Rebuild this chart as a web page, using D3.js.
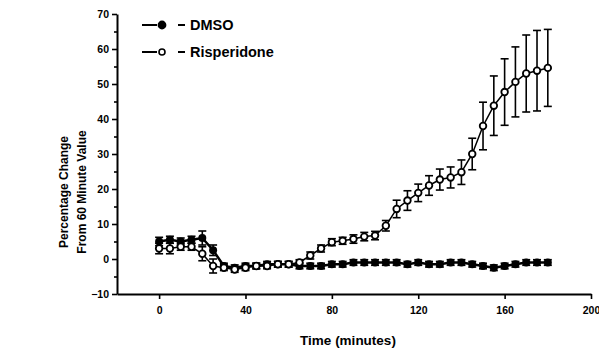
<!DOCTYPE html>
<html>
<head>
<meta charset="utf-8">
<script src="https://cdn.jsdelivr.net/npm/d3@7"></script>
<style>
  body { margin: 0; background: #fff; }
  svg { display: block; }
  text { font-family: "Liberation Sans", Arial, sans-serif; font-weight: bold; fill: #000; }
</style>
</head>
<body>
<svg id="chart" width="599" height="354"></svg>
<script>
// time points (minutes)
const times = [0, 5, 10, 15, 20, 25, 30, 35, 40, 45, 50, 55, 60, 65, 70, 75, 80, 85, 90,
  95, 100, 105, 110, 115, 120, 125, 130, 135, 140, 145, 150, 155, 160, 165, 170, 175, 180];

// DMSO, % change from 60 minute value, and SEM
const dmso = [5, 5.5, 5, 5.5, 6, 2.5, -2, -2.5, -2, -2, -1.5, -1.5, -1.5, -2, -2, -2, -1.5, -1.5, -1,
  -1, -1, -1, -1, -1.5, -1, -1.5, -1.5, -1, -1, -1.5, -2, -2.5, -2, -1.5, -1, -1, -1];
const dmsoErr = [1.2, 1, 1, 1, 2, 1.5, 0.8, 0.8, 0.8, 0.8, 0.8, 0.8, 0.8, 0.8, 0.8, 0.8, 0.8, 0.8, 0.8,
  0.8, 0.8, 0.8, 0.8, 0.8, 0.8, 0.8, 0.8, 0.8, 0.8, 0.8, 0.8, 0.8, 0.8, 0.8, 0.8, 0.8, 0.8];

// Risperidone, % change from 60 minute value, and SEM
const risp = [3, 3, 3.5, 3.5, 1.5, -2, -2.5, -3, -2.5, -2, -2, -1.5, -1.5, -1, 1, 3, 4.8, 5.2, 5.7,
  6.4, 6.7, 9.5, 14.3, 16.7, 18.9, 21, 22.7, 23.3, 24.8, 30, 38, 43.8, 47.7, 50.6, 53, 53.8, 54.6];
const rispErr = [1.5, 1.5, 1, 1, 2, 2, 0.8, 0.8, 0.8, 0.8, 0.8, 0.8, 0.8, 0.8, 1, 1, 1, 1, 1.2,
  1.2, 1.2, 1.5, 2.5, 2.8, 2.5, 2.8, 3, 3, 3.5, 4.5, 6.8, 8.5, 9.5, 10, 11, 11.5, 11];

const xTicks = [0, 40, 80, 120, 160, 200];
const yTicks = [-10, 0, 10, 20, 30, 40, 50, 60, 70];
const yMinor = [-5, 5, 15, 25, 35, 45, 55, 65];

const svg = d3.select('#chart');

const x = d3.scaleLinear().domain([-19.5, 200]).range([117, 591]);
const y = d3.scaleLinear().domain([-10, 70]).range([294, 14]);

// axes
const xAxis = svg.append('g')
  .attr('transform', `translate(0,${y(-10)})`)
  .call(d3.axisBottom(x).tickValues(xTicks).tickSize(5).tickSizeOuter(0).tickPadding(8));

const yAxis = svg.append('g')
  .attr('transform', `translate(${x(-19.5)},0)`)
  .call(d3.axisLeft(y).tickValues(yTicks).tickSize(5).tickSizeOuter(0).tickPadding(3));

svg.append('g')
  .attr('transform', `translate(${x(-19.5)},0)`)
  .call(d3.axisLeft(y).tickValues(yMinor).tickSize(3).tickFormat(''))
  .select('.domain').remove();

svg.selectAll('.domain').attr('stroke', '#000').attr('stroke-width', 2);
svg.selectAll('.tick line').attr('stroke', '#000').attr('stroke-width', 1.6);
xAxis.selectAll('text').style('font-size', '10.5px');
yAxis.selectAll('text').style('font-size', '10.5px').attr('dy', '0.35em');

// axis titles
svg.append('text')
  .attr('x', 348).attr('y', 345)
  .attr('text-anchor', 'middle')
  .style('font-size', '13.5px')
  .text('Time (minutes)');

svg.append('text')
  .attr('transform', 'translate(68,192) rotate(-90)')
  .attr('text-anchor', 'middle')
  .style('font-size', '12px')
  .text('Percentage Change');

svg.append('text')
  .attr('transform', 'translate(86,192) rotate(-90)')
  .attr('text-anchor', 'middle')
  .style('font-size', '12px')
  .text('From 60 Minute Value');

// series drawing
const line = d3.line()
  .x((d, i) => x(times[i]))
  .y(d => y(d));

function drawErrors(vals, errs) {
  const g = svg.append('g').attr('stroke', '#000').attr('stroke-width', 1.6);
  vals.forEach((v, i) => {
    const cx = x(times[i]);
    g.append('line')
      .attr('x1', cx).attr('x2', cx)
      .attr('y1', y(v - errs[i])).attr('y2', y(v + errs[i]));
    [v - errs[i], v + errs[i]].forEach(e => {
      g.append('line')
        .attr('x1', cx - 4).attr('x2', cx + 4)
        .attr('y1', y(e)).attr('y2', y(e));
    });
  });
}

drawErrors(dmso, dmsoErr);
drawErrors(risp, rispErr);

svg.append('path')
  .datum(dmso)
  .attr('d', line)
  .attr('fill', 'none')
  .attr('stroke', '#000')
  .attr('stroke-width', 2.5);

svg.append('path')
  .datum(risp)
  .attr('d', line)
  .attr('fill', 'none')
  .attr('stroke', '#000')
  .attr('stroke-width', 1.5);

svg.append('g')
  .selectAll('circle')
  .data(dmso)
  .join('circle')
  .attr('cx', (d, i) => x(times[i]))
  .attr('cy', d => y(d))
  .attr('r', 4)
  .attr('fill', '#000');

svg.append('g')
  .selectAll('circle')
  .data(risp)
  .join('circle')
  .attr('cx', (d, i) => x(times[i]))
  .attr('cy', d => y(d))
  .attr('r', 3.3)
  .attr('fill', '#fff')
  .attr('stroke', '#000')
  .attr('stroke-width', 1.8);

// legend
const legend = svg.append('g');
const legendItems = [
  { label: 'DMSO', filled: true, y: 25 },
  { label: 'Risperidone', filled: false, y: 52 }
];
legendItems.forEach(item => {
  legend.append('line')
    .attr('x1', 142).attr('x2', 157)
    .attr('y1', item.y).attr('y2', item.y)
    .attr('stroke', '#000').attr('stroke-width', 2);
  legend.append('circle')
    .attr('cx', 162).attr('cy', item.y)
    .attr('r', item.filled ? 3.6 : 3)
    .attr('fill', item.filled ? '#000' : '#fff')
    .attr('stroke', '#000').attr('stroke-width', 1.6);
  legend.append('line')
    .attr('x1', 178).attr('x2', 185)
    .attr('y1', item.y).attr('y2', item.y)
    .attr('stroke', '#000').attr('stroke-width', 2);
  legend.append('text')
    .attr('x', 190).attr('y', item.y)
    .attr('dy', '0.36em')
    .style('font-size', '14.5px')
    .text(item.label);
});
</script>
</body>
</html>
